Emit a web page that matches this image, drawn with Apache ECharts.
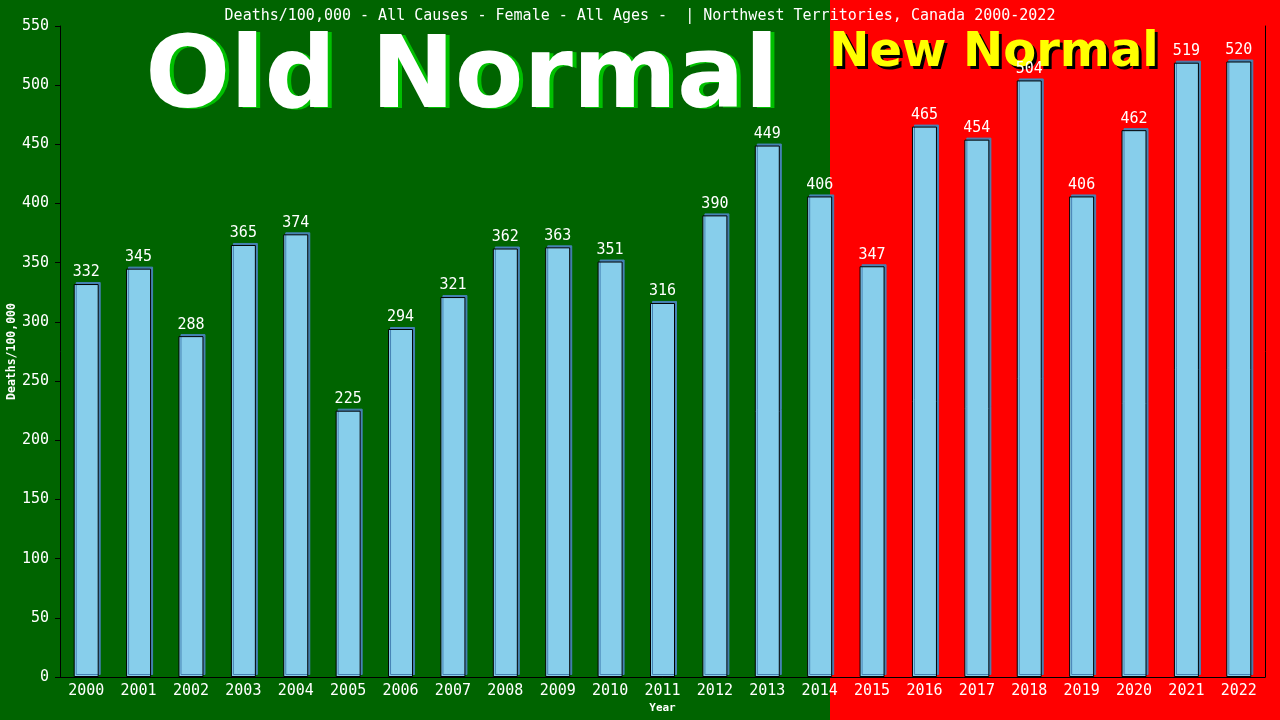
<!DOCTYPE html>
<html>
<head>
<meta charset="utf-8">
<script src="https://cdn.jsdelivr.net/npm/echarts@6/dist/echarts.min.js"></script>
<style>html,body{margin:0;padding:0;background:#006400;}#c{width:1280px;height:720px;}</style>
</head>
<body>
<div id="c"></div>
<script>
var years = ['2000','2001','2002','2003','2004','2005','2006','2007','2008','2009','2010','2011','2012','2013','2014','2015','2016','2017','2018','2019','2020','2021','2022'];
var deaths = [332,345,288,365,374,225,294,321,362,363,351,316,390,449,406,347,465,454,504,406,462,519,520];
var titleText = 'Deaths/100,000 - All Causes - Female - All Ages -  | Northwest Territories, Canada 2000-2022';
var yMin = 0, yMax = 550, yStep = 50;

var mono = 'DejaVu Sans Mono';
var oldFont = 'bold 100px "DejaVu Sans"';
var newFont = 'bold 48px "DejaVu Sans"';
var chart = echarts.init(document.getElementById('c'));
chart.setOption({
  animation: false,
  backgroundColor: '#006400',
  title: {
    text: titleText, left: 'center', top: 4,
    textStyle: {color: '#fff', fontFamily: mono, fontSize: 15, fontWeight: 'normal'}
  },
  graphic: [
    {type: 'rect', z: -100, silent: true, shape: {x: 0, y: 0, width: 830, height: 720}, style: {fill: '#006400'}},
    {type: 'rect', z: -100, silent: true, shape: {x: 830, y: 0, width: 450, height: 720}, style: {fill: '#ff0000'}},
    {type: 'text', z: -60, x: 466, y: 82, style: {text: 'Old Normal', fill: '#00c000', font: oldFont, align: 'center', verticalAlign: 'middle'}},
    {type: 'text', z: -50, x: 462, y: 81, style: {text: 'Old Normal', fill: '#fff', font: oldFont, align: 'center', verticalAlign: 'middle'}},
    {type: 'text', z: -60, x: 997, y: 57, style: {text: 'New Normal', fill: '#000', font: newFont, align: 'center', verticalAlign: 'middle'}},
    {type: 'text', z: -50, x: 994, y: 54, style: {text: 'New Normal', fill: '#ffff00', font: newFont, align: 'center', verticalAlign: 'middle'}}
  ],
  grid: {left: 60, right: 15, top: 26, bottom: 43, outerBoundsMode: 'none', containLabel: false},
  xAxis: {
    type: 'category', data: years,
    name: 'Year', nameLocation: 'middle', nameGap: 26, nameMoveOverlap: false,
    nameTextStyle: {color: '#fff', fontFamily: mono, fontSize: 11, fontWeight: 'bold'},
    axisLine: {lineStyle: {color: '#000', width: 1}},
    axisTick: {show: false},
    axisLabel: {color: '#fff', fontFamily: mono, fontSize: 15, margin: 7, interval: 0}
  },
  yAxis: [{
    type: 'value', min: yMin, max: yMax, interval: yStep,
    name: 'Deaths/100,000', nameLocation: 'middle', nameGap: 42, nameMoveOverlap: false,
    nameTextStyle: {color: '#fff', fontFamily: mono, fontSize: 11.5, fontWeight: 'bold'},
    axisLine: {show: true, lineStyle: {color: '#000', width: 1}},
    axisTick: {show: true, length: 5, lineStyle: {color: '#000'}},
    axisLabel: {color: '#fff', fontFamily: mono, fontSize: 15, margin: 11},
    splitLine: {show: false}
  }, {
    type: 'value', min: yMin, max: yMax, interval: yStep, position: 'right',
    axisLine: {show: true, lineStyle: {color: '#000', width: 1}},
    axisTick: {show: false}, axisLabel: {show: false}, splitLine: {show: false}
  }],
  series: [{
    type: 'bar', data: deaths, barWidth: 25,
    itemStyle: {color: '#87ceeb', borderColor: '#000', borderWidth: 1,
      shadowColor: '#4682b4', shadowOffsetX: 2, shadowOffsetY: -2, shadowBlur: 0},
    label: {show: true, position: 'top', distance: 4, color: '#fff', fontFamily: mono, fontSize: 15}
  }]
});
</script>
</body>
</html>
